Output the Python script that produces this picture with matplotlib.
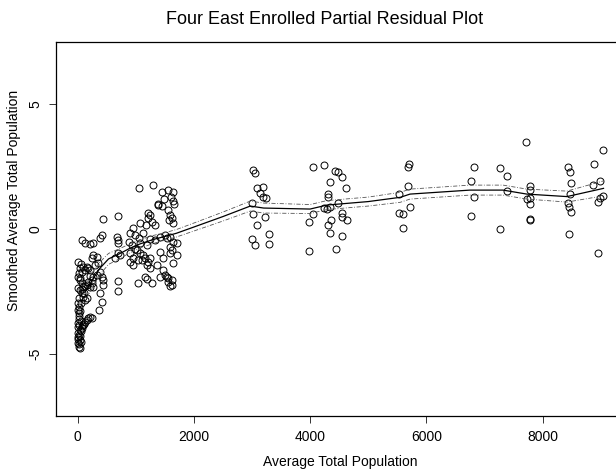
import matplotlib
matplotlib.use("Agg")
import matplotlib.pyplot as plt
import numpy as np

plt.rcParams['font.family'] = ['Liberation Sans', 'DejaVu Sans']

# Observed partial residuals: average total population vs smoothed residual
pop = [
    5, 39, 68, 97, 125, 154, 183, 211,
    10, 39, 68, 97, 154, 183, 211, 240, 269,
    12, 39, 68, 97, 125, 154,
    3, 15, 4, 18,
    2, 11, 39, 68, 97, 125, 154, 183, 211, 240,
    3, 11, 39, 6, 39, 14,
    25, 30, 50, 20, 45, 60, 80, 110, 28, 8, 55, 18, 35, 50, 22, 80, 110, 130, 30, 60, 45,
    240, 269, 326, 297, 355, 384, 412, 441, 441, 384, 412, 372, 326, 269, 211, 240,
    68, 125, 211, 269, 384, 412, 441, 688,
    670, 699, 699, 699, 728, 642, 699, 699,
    1215, 1244, 1204, 1273, 1330, 1175,
    1560, 1588, 1617, 1571, 1646,
    1072, 946, 900, 992, 1061, 1129,
    883, 929, 986, 1072, 1187, 1244, 1330, 1416, 1502, 1531, 1588, 1646, 1703,
    1588, 1617, 1588, 1703, 1646,
    1015, 1072, 1129, 957, 1043, 1101, 1158, 1215, 1244, 1187, 1244, 1359, 1474, 1502,
    1531, 1560, 1588, 1617, 1560, 1617,
    900, 900, 957, 1416, 1474,
    1043, 1158, 1187, 1273, 1416,
    1376, 1456, 1634,
    1050, 1290, 1450, 1560, 1640, 1600, 1490, 1660, 1390,
    3011, 3052, 3092, 3195, 3138, 3195, 3241, 2994, 3023, 3224, 3092, 2994, 3052, 3293, 3293,
    4044, 4239, 4428, 4486, 4543, 4342, 4618, 4314, 4314, 4239, 4297, 4342, 4486, 4543,
    4543, 4360, 4630, 4044, 3975, 4314, 4342, 4543, 3975, 4440,
    5708, 5691, 5691, 5536, 5719, 5536, 5605, 5599,
    6827, 6775, 6827, 6775, 7263, 7383, 7383, 7263,
    7721, 7785, 7785, 7727, 7785, 7785, 7785, 7785,
    8444, 8473, 8496, 8473, 8444, 8462, 8496, 8462,
    8886, 9035, 8875, 8984, 9047, 8990, 8961, 8949,
]
resid = [
    -1.31, -1.58, -1.71, -1.51, -1.64, -1.51, -1.58, -1.64,
    -1.91, -2.05, -2.18, -2.31, -2.25, -2.11, -2.31, -2.18, -2.31,
    -2.38, -2.45, -2.58, -2.71, -2.85, -2.78,
    -2.98, -3.11, -3.25, -3.38,
    -3.78, -3.92, -4.05, -3.98, -3.85, -3.72, -3.65, -3.58, -3.52, -3.58,
    -4.18, -4.32, -4.45, -4.59, -4.79, -4.72,
    -3.62, -3.85, -4.10, -4.25, -4.30, -3.70, -3.90, -3.80, -4.60, -4.40, -4.55, -3.50,
    -3.30, -2.95, -2.75, -2.40, -2.55, -2.30, -1.75, -1.40, -1.95,
    -1.18, -1.04, -1.11, -1.44, -1.38, -1.71, -1.91, -2.05, -2.25, -2.58, -2.91, -3.25,
    -1.84, -1.91, -1.89, -2.05,
    -0.44, -0.57, -0.61, -0.57, -0.37, -0.24, 0.40, 0.53,
    -0.31, -0.44, -0.55, -0.98, -1.04, -1.18, -2.09, -2.47,
    0.63, 0.56, 0.43, 0.29, 0.16, 0.16,
    0.76, 0.56, 0.43, 0.36, 0.23,
    0.23, 0.03, -0.17, -0.24, -0.37, -0.17,
    -0.51, -0.64, -0.82, -0.57, -0.64, -0.41, -0.44, -0.31, -0.24, -0.37, -0.31, -0.51, -0.57,
    -0.71, -0.84, -0.98, -1.04, -1.38,
    -0.84, -0.98, -1.04, -1.18, -1.24, -1.24, -1.18, -1.31, -1.18, -1.44, -1.58, -1.44, -1.64, -1.84,
    -1.94, -2.11, -2.29, -2.25, -1.98, -2.05,
    -0.98, -1.31, -1.44, -0.91, -1.18,
    -2.18, -1.91, -2.02, -2.15, -1.91,
    0.96, 0.94, 1.14,
    1.65, 1.75, 1.50, 1.55, 1.50, 1.30, 1.20, 1.00, 1.00,
    2.37, 2.23, 1.63, 1.67, 1.43, 1.27, 1.23, 1.03, 0.60, 0.47, 0.15, -0.42, -0.66, -0.20, -0.62,
    2.47, 2.57, 2.33, 2.27, 2.07, 1.88, 1.66, 1.40, 1.30, 0.83, 0.79, 0.87, 1.06, 0.65,
    0.49, 0.36, 0.36, 0.59, 0.29, 0.16, -0.17, -0.27, -0.87, -0.80,
    2.61, 2.47, 1.74, 1.40, 0.87, 0.65, 0.59, 0.05,
    2.47, 1.94, 1.30, 0.53, 2.46, 2.14, 1.54, 0.00,
    3.50, 1.74, 1.56, 1.19, 1.23, 0.99, 0.39, 0.36,
    2.47, 2.30, 1.86, 1.40, 1.06, 0.87, 0.69, -0.20,
    2.61, 3.17, 1.76, 1.92, 1.34, 1.23, 1.10, -0.95,
]

# Smoothed fit and its pointwise band half-width
smooth_x = [150, 270, 380, 530, 730, 900, 1070, 1300, 1530, 1700, 2000, 2500,
            2970, 3200, 4000, 4290, 5000, 5550, 5720, 6750, 7320, 7730, 8420, 9050]
smooth_y = [-2.45, -1.98, -1.58, -1.20, -0.98, -0.77, -0.60, -0.42, -0.28, -0.17, 0.08, 0.50,
            0.92, 0.84, 0.80, 0.96, 1.10, 1.27, 1.40, 1.56, 1.56, 1.40, 1.30, 1.63]
band_hw = [0.35, 0.30, 0.25, 0.22, 0.20, 0.18, 0.17, 0.16, 0.15, 0.15, 0.16, 0.18,
           0.20, 0.20, 0.18, 0.18, 0.18, 0.20, 0.20, 0.20, 0.20, 0.20, 0.22, 0.30]

x_ticks = [0, 2000, 4000, 6000, 8000]
y_ticks = [-5, 0, 5]

W, H = 616, 473
fig = plt.figure(figsize=(W / 100, H / 100), dpi=100)
left, right, top, bottom = 56, 627, 42, 416
ax = fig.add_axes([left / W, 1 - bottom / H, (right - left) / W, (bottom - top) / H])

ax.plot(pop, resid, linestyle='none', marker='o', markersize=5.0,
        markerfacecolor='none', markeredgecolor='black', markeredgewidth=0.7)

sx = np.array(smooth_x)
sy = np.array(smooth_y)
hw = np.array(band_hw)
ax.plot(sx, sy, color='black', linewidth=0.9)
for sign in (1, -1):
    ax.plot(sx, sy + sign * hw, color='#555555', linewidth=0.6,
            linestyle=(0, (5, 2, 1, 2)))

ax.set_xlim(-374, 9454)
ax.set_ylim(-7.5, 7.5)
ax.set_xticks(x_ticks)
ax.set_xticklabels([str(v) for v in x_ticks])
ax.set_yticks(y_ticks)
ax.set_yticklabels([str(v) for v in y_ticks], rotation=90, va='center')
ax.tick_params(direction='out', length=5, width=0.7, colors='#333333',
               labelsize=10, labelcolor='black', pad=5)
for sp in ax.spines.values():
    sp.set_linewidth(0.9)
    sp.set_color('black')

fig.text(325 / W, 1 - 20 / H, 'Four East Enrolled Partial Residual Plot',
         ha='center', va='center', fontsize=13)
fig.text(340 / W, 1 - 462 / H, 'Average Total Population',
         ha='center', va='center', fontsize=10)
fig.text(14 / W, 1 - 200 / H, 'Smoothed Average Total Population',
         ha='center', va='center', rotation=90, fontsize=10)

fig.savefig('out.png', dpi=100)
